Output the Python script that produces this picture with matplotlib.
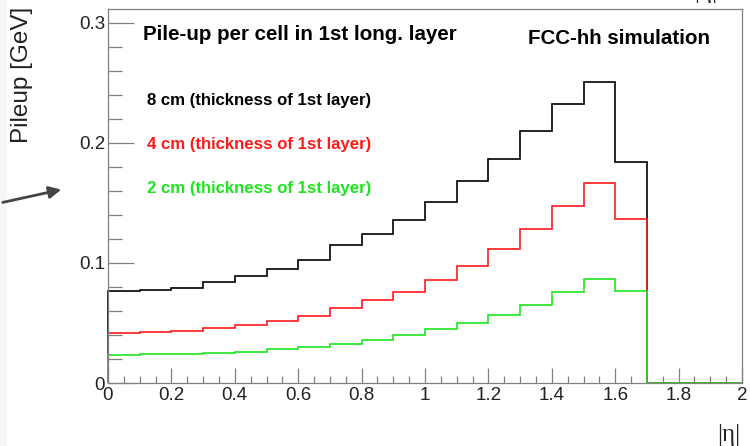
import numpy as np
import matplotlib
matplotlib.use("Agg")
import matplotlib.pyplot as plt
from matplotlib.patches import FancyArrowPatch, Rectangle
from matplotlib.ticker import MultipleLocator, FormatStrFormatter

plt.rcParams['font.family'] = ['Liberation Sans', 'DejaVu Sans']

# |eta| binning of the pile-up histograms
eta_edges = np.round(np.arange(0, 2.01, 0.1), 2)

# pile-up per cell [GeV] for the three first-layer thicknesses
pileup_8cm = [0.0765, 0.0776, 0.0795, 0.0842, 0.0889, 0.0948, 0.1025, 0.1153,
              0.1241, 0.1361, 0.1505, 0.1682, 0.1867, 0.2095, 0.2322, 0.2510,
              0.1843, 0.0, 0.0, 0.0]
pileup_4cm = [0.0418, 0.0424, 0.0435, 0.0457, 0.0479, 0.0518, 0.0560, 0.0626,
              0.0687, 0.0759, 0.0856, 0.0978, 0.1114, 0.1283, 0.1477, 0.1668,
              0.1369, 0.0, 0.0, 0.0]
pileup_2cm = [0.0235, 0.0241, 0.0241, 0.0252, 0.0260, 0.0283, 0.0302, 0.0327,
              0.0357, 0.0396, 0.0446, 0.0501, 0.0565, 0.0651, 0.0759, 0.0870,
              0.0767, 0.0, 0.0, 0.0]

labels = ['8 cm (thickness of 1st layer)',
          '4 cm (thickness of 1st layer)',
          '2 cm (thickness of 1st layer)']
colors = ['black', '#ff1a1a', '#1ee61e']

W, H = 750, 446
fig = plt.figure(figsize=(W / 100, H / 100), dpi=100)
fig.patch.set_facecolor('white')
ax = fig.add_axes([108 / W, 1 - 383 / H, (742 - 108) / W, (383 - 9) / H])

# thin grey strip on the left edge
fig.add_artist(Rectangle((0, 0), 7 / W, 1, transform=fig.transFigure,
                         facecolor='#f6f6f6', edgecolor='none', zorder=0))

for vals, c in zip([pileup_8cm, pileup_4cm, pileup_2cm], colors):
    ax.stairs(vals, eta_edges, baseline=0, color=c, lw=1.2, clip_on=False)

ax.set_xlim(0, 2)
ax.set_ylim(0, 0.3114)

for s in ax.spines.values():
    s.set_color('#808080')
    s.set_linewidth(0.9)
ax.spines['top'].set_zorder(0)

ax.xaxis.set_major_locator(MultipleLocator(0.2))
ax.xaxis.set_minor_locator(MultipleLocator(0.05))
ax.yaxis.set_major_locator(MultipleLocator(0.1))
ax.yaxis.set_minor_locator(MultipleLocator(0.02))
ax.xaxis.set_major_formatter(FormatStrFormatter('%g'))
ax.yaxis.set_major_formatter(FormatStrFormatter('%g'))
ax.tick_params(axis='x', which='major', direction='in', length=11, width=0.9,
               color='#808080', labelsize=13.5, pad=3, labelcolor='#222222')
ax.tick_params(axis='x', which='minor', direction='in', length=5, width=0.9,
               color='#808080')
ax.tick_params(axis='y', which='major', direction='in', length=19, width=0.9,
               color='#808080', labelsize=13.5, pad=2, labelcolor='#222222')
ax.tick_params(axis='y', which='minor', direction='in', length=10, width=0.9,
               color='#808080')

fig.text(22 / W, 1 - 7 / H, 'Pileup [GeV]', rotation=90, ha='center',
         va='top', fontsize=17.5, color='#222222')
fig.text(740 / W, 0.0, '|η|', ha='right', va='bottom',
         fontsize=18, color='#222222', family=['Liberation Serif'])
fig.text(717 / W, 1 - 3 / H, '|η|', ha='right', va='bottom',
         fontsize=18, color='#222222', family=['Liberation Serif'])

ax.text(143, 35, 'Pile-up per cell in 1st long. layer', transform=None,
        fontsize=14.8, fontweight='bold', va='center', ha='left')
ax.text(528, 38, 'FCC-hh simulation', transform=None,
        fontsize=14.8, fontweight='bold', va='center', ha='left')
# legend entries written as coloured text
for i, (lab, c) in enumerate(zip(labels, colors)):
    ax.text(147, [101, 145, 189][i], lab, transform=None, fontsize=12.1,
            fontweight='bold', color=c, va='center', ha='left')

fig.add_artist(FancyArrowPatch((0, 1 - 203 / H), (64 / W, 1 - 189 / H),
                               transform=fig.transFigure, arrowstyle='-|>',
                               mutation_scale=18, color='#454545', lw=2))

# axes-pixel texts were positioned in display coordinates from the top
for t in ax.texts:
    x, y = t.get_position()
    t.set_transform(fig.transFigure)
    t.set_position((x / W, 1 - y / H))

fig.savefig('out.png', dpi=100)
